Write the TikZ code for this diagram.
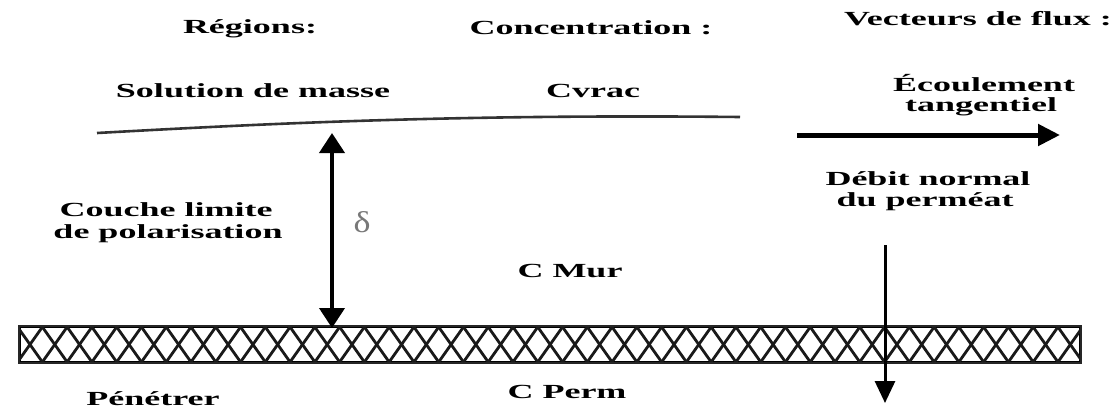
\documentclass[tikz,border=0pt]{standalone}
\usepackage{fontspec}
\setmainfont{Liberation Serif}
\usetikzlibrary{arrows.meta}
\definecolor{deltagray}{RGB}{120,120,120}
\begin{document}
\begin{tikzpicture}[x=1pt,y=-1pt,
  lbl/.style={font=\fontsize{20}{22}\selectfont\bfseries, xscale=1.8, inner sep=0pt, anchor=base},
  hatch/.style={line width=2.8pt, black!90},
  bigarrow/.style={line width=5pt, -{Triangle[length=22pt,width=21pt]}},
  dblarrow/.style={line width=4pt, {Triangle[length=20pt,width=25pt]}-{Triangle[length=20pt,width=25pt]}},
  downarrow/.style={line width=3pt, -{Triangle[length=22pt,width=20pt]}}]
\useasboundingbox (0,0) rectangle (1120,408);
\fill[white] (0,0) rectangle (1120,408);

% headings
\node[lbl] (hreg) at (250,33) {Régions:};
\node[lbl] (hcon) at (591,34) {Concentration :};
\node[lbl] (hvec) at (978,25) {Vecteurs de flux :};

% labels
\node[lbl] (sol) at (253,97) {Solution de masse};
\node[lbl] (cvr) at (593,97) {Cvrac};
\node[lbl] (eco1) at (984,91) {Écoulement};
\node[lbl] (eco2) at (981,111) {tangentiel};
\node[lbl] (deb1) at (928,185) {Débit normal};
\node[lbl] (deb2) at (925,206) {du perméat};
\node[lbl] (cou1) at (166,216) {Couche limite};
\node[lbl] (cou2) at (168,238) {de polarisation};
\node[lbl] (cmur) at (570,277) {C Mur};
\node[lbl] (cper) at (567,398) {C Perm};
\node[lbl] (pen) at (153,405) {Pénétrer};
\node[font=\fontsize{30}{32}\selectfont, text=deltagray, xscale=1.2, inner sep=0pt] (delta) at (362,222) {δ};

% bulk solution line
\coordinate (bl) at (97,133);
\coordinate (br) at (740,117);
\draw[line width=2.6pt, black!80] (bl) .. controls (260,124) and (450,114) .. (br);

% membrane
\node[draw, line width=1.5pt, fill=white, minimum width=1060pt, minimum height=35pt, inner sep=0pt] (mem) at (550,344.5) {};
\begin{scope}
  \clip (mem.south west) rectangle (mem.north east);
  \foreach \k in {-2,...,45} {
    \draw[hatch] ({17.6+24.77*\k},362) -- ++(24.77,-35);
    \draw[hatch] ({17.6+24.77*\k},327) -- ++(24.77,35);
  }
\end{scope}
\draw[line width=1.8pt, black!85] (mem.south west) rectangle (mem.north east);

% delta arrow
\coordinate (dtop) at (332,133);
\coordinate (dbot) at (332,328);
\draw[dblarrow] (dtop) -- (dbot);

% tangential flow arrow
\coordinate (ts) at (797,135);
\coordinate (te) at (1060,135);
\draw[bigarrow] (ts) -- (te);

% permeate flow arrow
\coordinate (ps) at (885,245);
\coordinate (pe) at (885,403);
\draw[downarrow] (ps) -- (pe);
\end{tikzpicture}
\end{document}
